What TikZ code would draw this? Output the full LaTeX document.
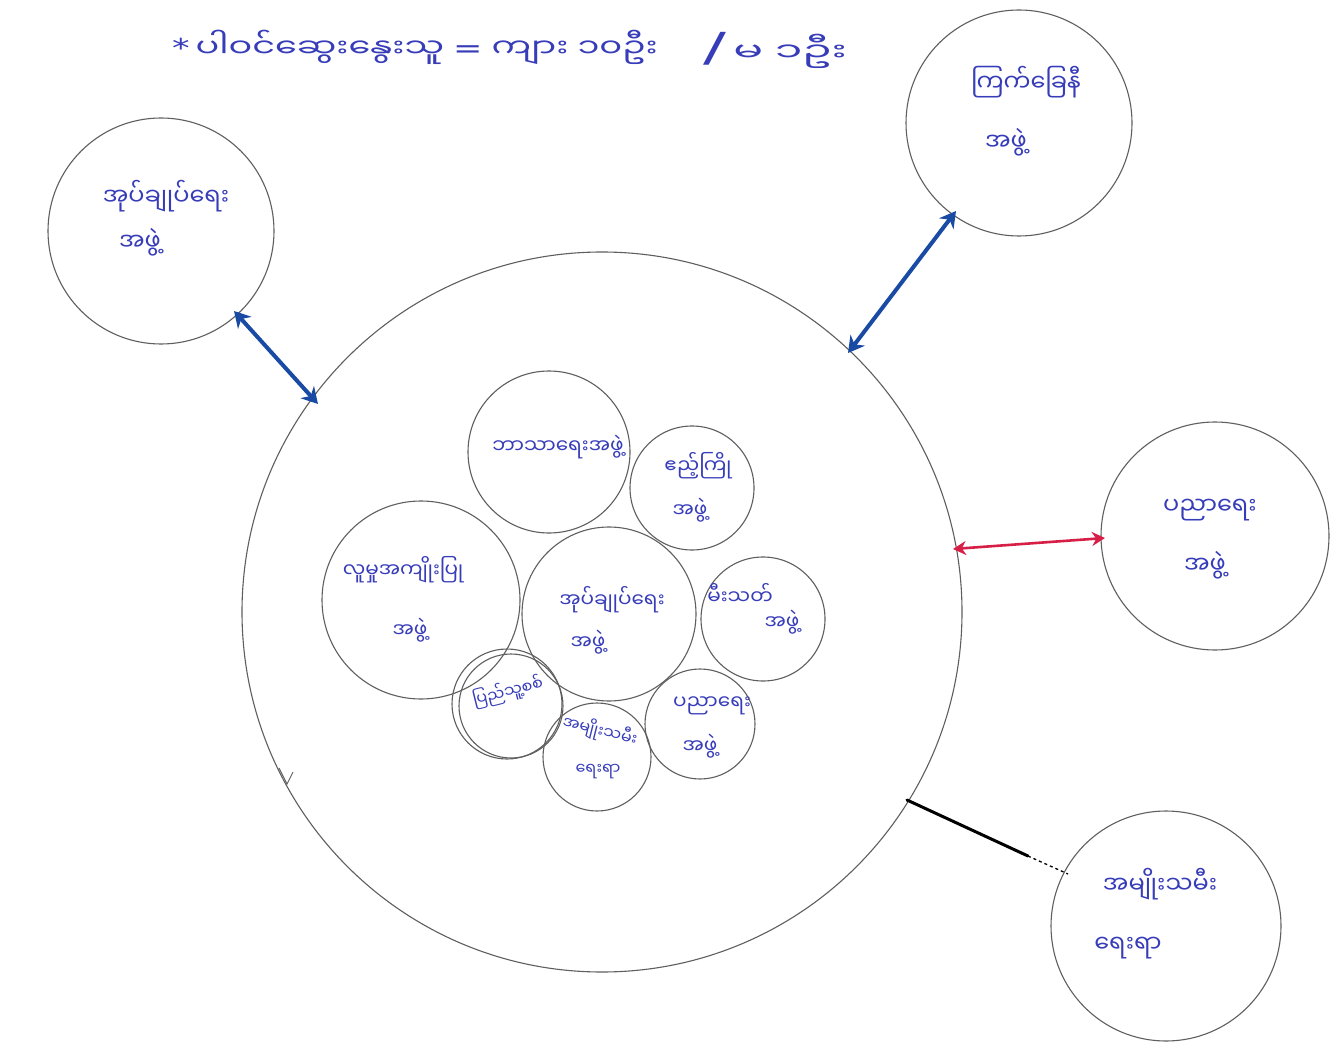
\documentclass[tikz,border=0pt]{standalone}
\usepackage{fontspec}
\newfontfamily\mya[Script=Myanmar]{Noto Sans Myanmar UI}
\newfontfamily\sym{DejaVu Sans}
\usetikzlibrary{arrows.meta}
\definecolor{ink}{RGB}{55,60,185}
\definecolor{pen}{RGB}{95,95,95}
\definecolor{darr}{RGB}{25,75,165}
\definecolor{rarr}{RGB}{215,30,70}
\tikzset{
  ring/.style={draw=pen, line width=1.1pt, circle, inner sep=0pt},
  lbl/.style={text=ink, font=\mya\fontsize{20}{24}\selectfont, inner sep=0pt},
  sml/.style={text=ink, font=\mya\fontsize{16}{19}\selectfont, inner sep=0pt},
  olbl/.style={text=ink, font=\mya\fontsize{24}{28}\selectfont, inner sep=0pt},
  big/.style={text=ink, font=\mya\fontsize{26}{30}\selectfont, inner sep=0pt},
  blarr/.style={draw=darr, line width=4pt, {Stealth[length=16pt,width=18pt]}-{Stealth[length=16pt,width=18pt]}},
  rdarr/.style={draw=rarr, line width=2.6pt, {Stealth[length=13pt,width=14pt]}-{Stealth[length=13pt,width=14pt]}}
}
\begin{document}
\begin{tikzpicture}[x=1pt,y=-1pt]
\useasboundingbox[fill=white] (0,0) rectangle (1343,1048);
% title
\node[big, anchor=west] (title) at (172,47) {\scalebox{1.35}[1]{{\sym *}\,ပါဝင်ဆွေးနွေးသူ {\sym =} ကျား ၁၀ဦး}};
\node[big, anchor=west] (title2) at (703,50) {\scalebox{1.7}[1]{{\sym\fontsize{40}{44}\selectfont /}\,မ ၁ဦး}};
% big circle
\node[ring, minimum size=720pt] (main) at (602,612) {};
% outer circles
\node[ring, minimum size=226pt] (o1) at (161,231) {};
\node[ring, minimum size=226pt] (o2) at (1019,123) {};
\node[ring, minimum size=228pt] (o3) at (1215,536) {};
\node[ring, minimum size=230pt] (o4) at (1166,926) {};
% inner circles
\node[ring, minimum size=162pt] (i1) at (549,452) {};
\node[ring, minimum size=124pt] (i2) at (692,488) {};
\node[ring, minimum size=198pt] (i3) at (421,600) {};
\node[ring, minimum size=174pt] (i4) at (609,614) {};
\node[ring, minimum size=124pt] (i5) at (763,619) {};
\node[ring, minimum size=110pt] (i6) at (507,704) {};
\node[ring, minimum size=104pt] (i6b) at (511,706) {};
\node[ring, minimum size=108pt] (i7) at (597,757) {};
\node[ring, minimum size=110pt] (i8) at (700,724) {};
% outer labels
\node[olbl] (t1a) at (166,196) {အုပ်ချုပ်ရေး};
\node[olbl] (t1b) at (140,242) {အဖွဲ့};
\node[olbl] (t2a) at (1026,82) {ကြက်ခြေနီ};
\node[olbl] (t2b) at (1006,142) {အဖွဲ့};
\node[olbl] (t3a) at (1210,510) {ပညာရေး};
\node[olbl] (t3b) at (1205,565) {အဖွဲ့};
\node[olbl] (t4a) at (1160,884) {အမျိုးသမီး};
\node[olbl] (t4b) at (1128,948) {ရေးရာ};
% inner labels
\node[lbl] (s1) at (558,447) {ဘာသာရေးအဖွဲ့};
\node[lbl] (s2a) at (698,466) {ဧည့်ကြို};
\node[lbl] (s2b) at (690,510) {အဖွဲ့};
\node[lbl] (s3a) at (403,570) {လူမှုအကျိုးပြု};
\node[lbl] (s3b) at (410,630) {အဖွဲ့};
\node[lbl] (s4a) at (612,600) {အုပ်ချုပ်ရေး};
\node[lbl] (s4b) at (588,642) {အဖွဲ့};
\node[lbl] (s5a) at (740,594) {မီးသတ်};
\node[lbl] (s5b) at (782,622) {အဖွဲ့};
\node[sml, rotate=14] (s6) at (508,692) {ပြည်သူ့စစ်};
\node[sml, rotate=-14] (s7a) at (600,731) {အမျိုးသမီး};
\node[sml] (s7b) at (598,772) {ရေးရာ};
\node[lbl] (s8a) at (712,706) {ပညာရေး};
\node[lbl] (s8b) at (700,746) {အဖွဲ့};
% connectors
\coordinate (a1s) at (234,311);
\coordinate (a1e) at (318,404);
\draw[blarr] (a1s) -- (a1e);
\coordinate (a2s) at (848,353);
\coordinate (a2e) at (956,211);
\draw[blarr] (a2s) -- (a2e);
\coordinate (a3s) at (953,549);
\coordinate (a3e) at (1105,538);
\draw[rdarr] (a3s) -- (a3e);
\coordinate (b1) at (907,800);
\coordinate (b2) at (1028,856);
\coordinate (b3) at (1068,874);
\draw[black, line width=3pt, line cap=round] (b1) -- (b2);
\draw[black, line width=1.3pt, dashed] (b2) -- (b3);
% small tick mark on the big circle
\coordinate (m1) at (279,768);
\coordinate (m2) at (287,784);
\coordinate (m3) at (293,772);
\draw[pen, line width=0.9pt] (m1) -- (m2) -- (m3);
\end{tikzpicture}
\end{document}
